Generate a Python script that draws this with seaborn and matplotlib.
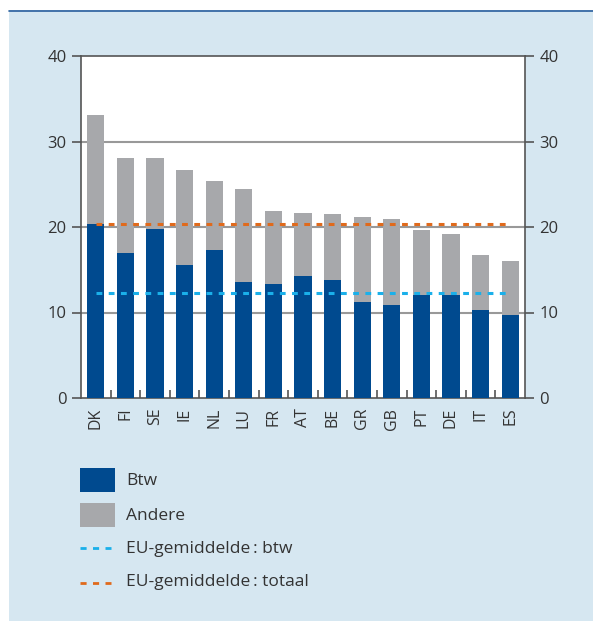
import numpy as np
import pandas as pd
import matplotlib
matplotlib.use("Agg")
import matplotlib.pyplot as plt
import seaborn as sns
from matplotlib.patches import Rectangle
from matplotlib.lines import Line2D

countries = ["DK", "FI", "SE", "IE", "NL", "LU", "FR", "AT", "BE", "GR", "GB", "PT", "DE", "IT", "ES"]
btw = [20.3, 17.0, 19.8, 15.6, 17.3, 13.6, 13.3, 14.3, 13.8, 11.2, 10.9, 12.1, 12.1, 10.3, 9.7]
totaal = [33.1, 28.1, 28.1, 26.7, 25.4, 24.4, 21.9, 21.6, 21.5, 21.2, 20.9, 19.7, 19.2, 16.7, 16.0]
eu_btw = 12.3
eu_totaal = 20.4
yticks = [0, 10, 20, 30, 40]
legend_labels = ["Btw", "Andere", "EU-gemiddelde\u2009: btw", "EU-gemiddelde\u2009: totaal"]

C_BLUE = "#004a8f"
C_GRAY = "#a7a8ab"
C_LBLUE = "#1ab0ea"
C_ORANGE = "#e06a1c"
BG = "#d6e7f1"
TXT = "#333333"
SPINE = "#555555"
DASH = (0, (1.9, 2.1))

sns.set_theme(style="white")
plt.rcParams["font.family"] = ["Open Sans", "DejaVu Sans"]

df = pd.DataFrame({"land": countries, "btw": btw, "totaal": totaal})

fig = plt.figure(figsize=(5.93, 6.21), dpi=100, facecolor=BG)
# white frame strips and top rule
fig.add_artist(Rectangle((0, 0), 9 / 593, 1, transform=fig.transFigure, facecolor="white", edgecolor="none", zorder=0))
fig.add_artist(Rectangle((0, 1 - 10 / 621), 1, 10 / 621, transform=fig.transFigure, facecolor="white", edgecolor="none", zorder=0))
fig.add_artist(Line2D([9 / 593, 1], [1 - 10.5 / 621, 1 - 10.5 / 621], transform=fig.transFigure, color="#2a5f9e", lw=1.2))

ax = fig.add_axes([81 / 593, 1 - 398 / 621, 444 / 593, 342 / 621])
ax.set_facecolor("white")

sns.barplot(data=df, x="land", y="totaal", color=C_GRAY, saturation=1, width=0.58, ax=ax,
            zorder=2, linewidth=0, edgecolor="none")
sns.barplot(data=df, x="land", y="btw", color=C_BLUE, saturation=1, width=0.58, ax=ax,
            zorder=3, linewidth=0, edgecolor="none")

n = len(countries)
ax.hlines(eu_totaal, 0, n - 1, colors=C_ORANGE, lw=2.2, linestyles=DASH, zorder=4)
ax.hlines(eu_btw, 0, n - 1, colors=C_LBLUE, lw=2.2, linestyles=DASH, zorder=4)

ax.set_xlim(-0.5, n - 0.5)
ax.set_ylim(0, 40)
ax.set_yticks(yticks)
ax.set_xlabel("")
ax.set_ylabel("")
for y in yticks[1:-1]:
    ax.axhline(y, color="#999999", lw=1.5, zorder=1)

for s in ax.spines.values():
    s.set_visible(True)
    s.set_color(SPINE)
    s.set_linewidth(1.2)

ax.tick_params(axis="y", which="major", direction="out", length=6.5, width=1.2, color=SPINE,
               labelsize=12, labelcolor=TXT, pad=4, left=True, right=True, labelleft=True, labelright=True)
ax.set_xticks(range(n))
ax.set_xticklabels(countries, rotation=90)
ax.tick_params(axis="x", which="major", length=0, labelsize=11.5, labelcolor=TXT, pad=7)
ax.set_xticks(np.arange(0.5, n - 1, 1), minor=True)
ax.tick_params(axis="x", which="minor", direction="in", length=6, width=1.2, color=SPINE, bottom=True)

# legend
def fx(px):
    return px / 593
def fy(py):
    return 1 - py / 621

fig.add_artist(Rectangle((fx(80), fy(492)), fx(35), 24 / 621, transform=fig.transFigure, facecolor=C_BLUE, edgecolor="none"))
fig.add_artist(Rectangle((fx(80), fy(527)), fx(35), 24 / 621, transform=fig.transFigure, facecolor=C_GRAY, edgecolor="none"))
fig.add_artist(Line2D([fx(80), fx(111)], [fy(548.3), fy(548.3)], transform=fig.transFigure, color=C_LBLUE, lw=2.0, linestyle=(0, (2.2, 2.3))))
fig.add_artist(Line2D([fx(80), fx(111)], [fy(582.5), fy(582.5)], transform=fig.transFigure, color=C_ORANGE, lw=2.0, linestyle=(0, (2.2, 2.3))))
for lab, py in zip(legend_labels, [481, 516, 549, 582]):
    fig.text(fx(126), fy(py), lab, fontsize=12.5, color=TXT, va="center", ha="left")

fig.savefig("out.png", dpi=100, facecolor=BG)
